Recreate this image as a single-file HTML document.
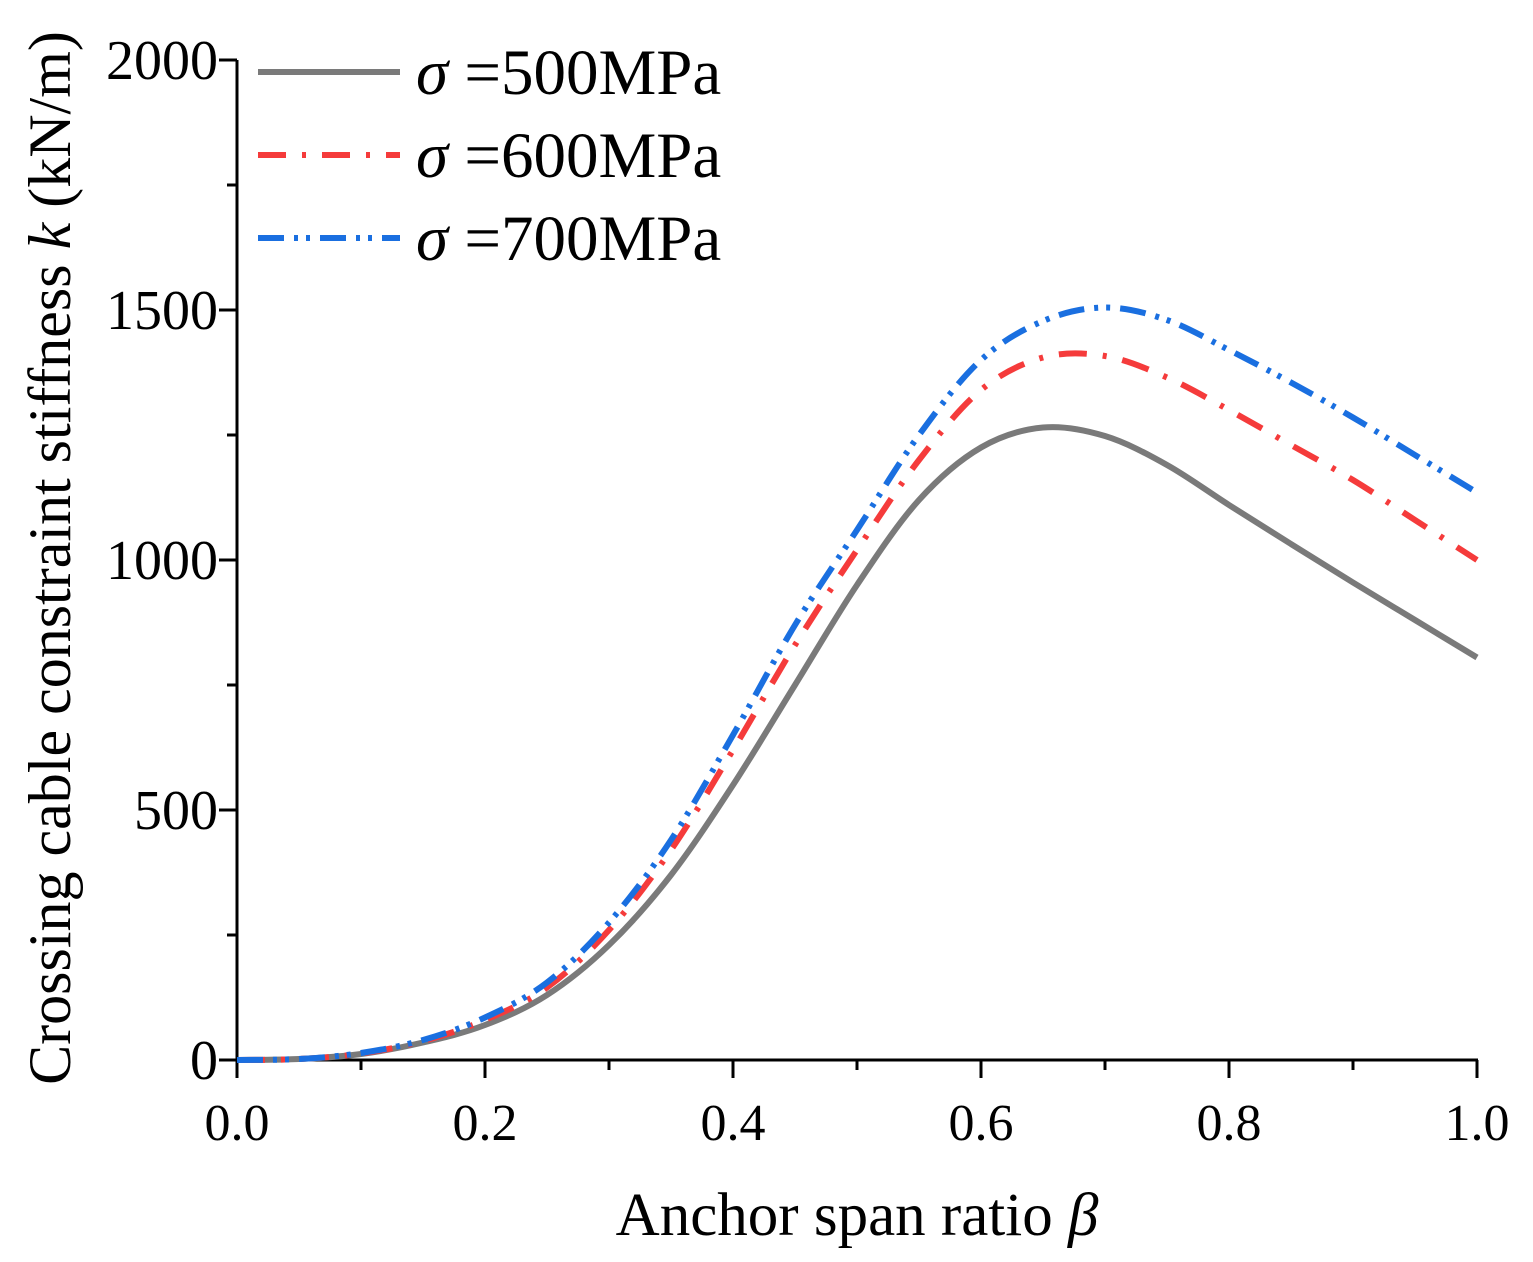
<!DOCTYPE html>
<html><head><meta charset="utf-8"><style>
html,body{margin:0;padding:0;background:#fff;}
svg{display:block;font-family:"Liberation Serif",serif;}
</style></head><body>
<svg id="s" width="1533" height="1262" viewBox="0 0 1533 1262" xmlns="http://www.w3.org/2000/svg">
<g stroke="#000" stroke-width="3" fill="none">
<line x1="237" y1="60" x2="237" y2="1061"/>
<line x1="236" y1="1060" x2="1478" y2="1060"/>
</g>
<g id="ticks" stroke="#000" stroke-width="3"></g>
<g font-size="52" fill="#000">
<text x="237" y="1140" text-anchor="middle">0.0</text>
<text x="485" y="1140" text-anchor="middle">0.2</text>
<text x="733" y="1140" text-anchor="middle">0.4</text>
<text x="981" y="1140" text-anchor="middle">0.6</text>
<text x="1229" y="1140" text-anchor="middle">0.8</text>
<text x="1477" y="1140" text-anchor="middle">1.0</text>
</g>
<g font-size="56" fill="#000">
<text x="218" y="1079" text-anchor="end">0</text>
<text x="218" y="829" text-anchor="end">500</text>
<text x="218" y="579" text-anchor="end">1000</text>
<text x="218" y="329" text-anchor="end">1500</text>
<text x="218" y="79" text-anchor="end">2000</text>
</g>
<text x="857" y="1235" font-size="61" text-anchor="middle">Anchor span ratio <tspan font-style="italic">β</tspan></text>
<text transform="translate(70,558) rotate(-90)" font-size="60" text-anchor="middle">Crossing cable constraint stiffness <tspan font-style="italic">k</tspan> (kN/m)</text>
<path id="g" fill="none" stroke="#7a7a7a" stroke-width="6"/>
<path id="r" fill="none" stroke="#f53b3b" stroke-width="6" stroke-dasharray="28,16,4,16"/>
<path id="b" fill="none" stroke="#1a6fe0" stroke-width="6" stroke-dasharray="26,10,4,8,4,10"/>
<line x1="258" y1="72" x2="400" y2="72" stroke="#7a7a7a" stroke-width="6"/>
<line x1="258" y1="155" x2="400" y2="155" stroke="#f53b3b" stroke-width="6" stroke-dasharray="28,16,4,16"/>
<line x1="258" y1="238" x2="400" y2="238" stroke="#1a6fe0" stroke-width="6" stroke-dasharray="26,10,4,8,4,10"/>
<g font-size="65">
<text x="416" y="94"><tspan font-style="italic">σ</tspan> =500MPa</text>
<text x="416" y="177"><tspan font-style="italic">σ</tspan> =600MPa</text>
<text x="416" y="260"><tspan font-style="italic">σ</tspan> =700MPa</text>
</g>
</svg>
<script>
var t=document.getElementById('ticks'),h='';
for(var i=0;i<=10;i++){var x=237+124*i;h+='<line x1="'+x+'" y1="1060" x2="'+x+'" y2="'+(i%2?1070:1078)+'"/>';}
for(var i=0;i<=8;i++){var y=1060-125*i;h+='<line x1="'+(i%2?227:219)+'" y1="'+y+'" x2="237" y2="'+y+'"/>';}
t.innerHTML=h;
function P(d){var p=d.map(function(a){return [237+1240*a[0],1060-0.5*a[1]];});
var s='M'+p[0][0]+','+p[0][1];
for(var i=0;i<p.length-1;i++){var p0=p[i-1]||p[i],p1=p[i],p2=p[i+1],p3=p[i+2]||p2;
s+=' C'+(p1[0]+(p2[0]-p0[0])/6)+','+(p1[1]+(p2[1]-p0[1])/6)+' '+(p2[0]-(p3[0]-p1[0])/6)+','+(p2[1]-(p3[1]-p1[1])/6)+' '+p2[0]+','+p2[1];}
return s;}
var g=[[0,0],[0.05,2],[0.1,12],[0.15,35],[0.2,70],[0.25,130],[0.3,230],[0.35,370],[0.4,550],[0.45,750],[0.5,950],[0.55,1120],[0.6,1225],[0.65,1265],[0.7,1248],[0.75,1190],[0.8,1110],[0.85,1032],[0.9,955],[0.95,880],[1,805]];
var r=[[0,0],[0.05,2],[0.1,13],[0.15,38],[0.2,80],[0.25,145],[0.3,260],[0.35,420],[0.4,620],[0.45,830],[0.5,1020],[0.55,1200],[0.6,1340],[0.65,1405],[0.7,1408],[0.75,1365],[0.8,1300],[0.85,1230],[0.9,1160],[0.95,1080],[1,1000]];
var b=[[0,0],[0.05,2],[0.1,14],[0.15,40],[0.2,85],[0.25,155],[0.3,275],[0.35,440],[0.4,650],[0.45,870],[0.5,1060],[0.55,1250],[0.6,1400],[0.65,1478],[0.7,1505],[0.75,1480],[0.8,1420],[0.85,1355],[0.9,1285],[0.95,1210],[1,1135]];
document.getElementById('g').setAttribute('d',P(g));
document.getElementById('r').setAttribute('d',P(r));
document.getElementById('b').setAttribute('d',P(b));
</script>
</body></html>
